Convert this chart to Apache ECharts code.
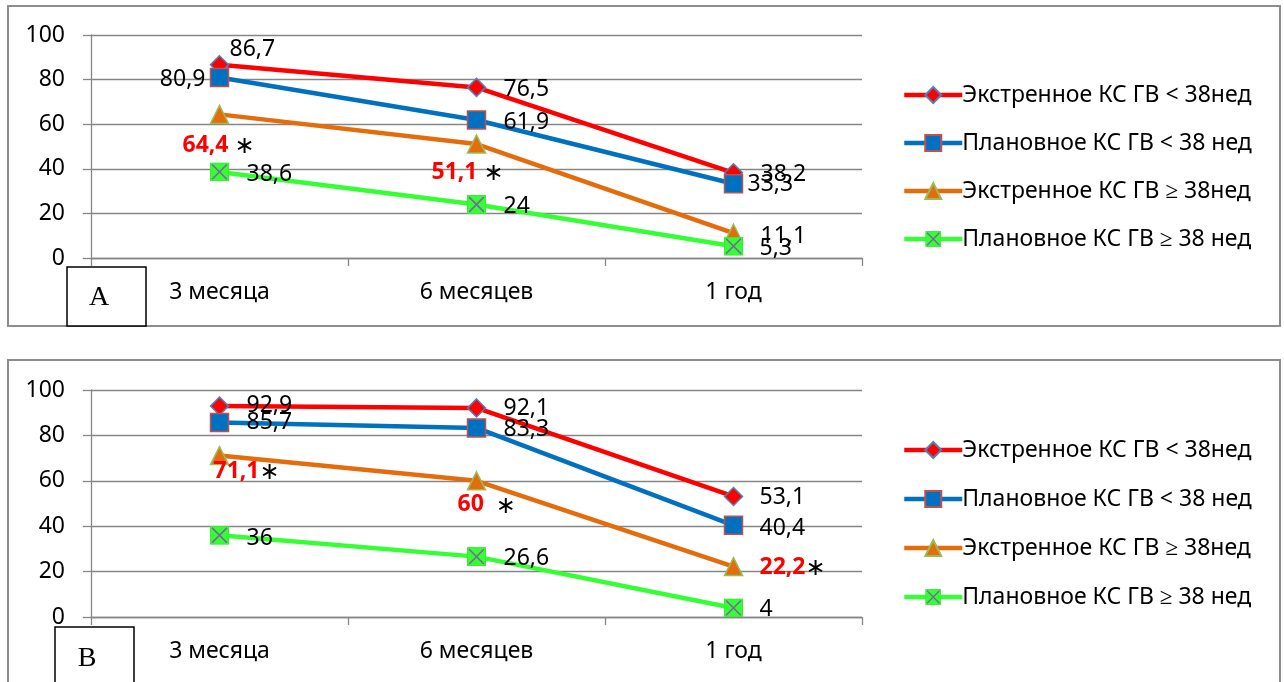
<!DOCTYPE html>
<html>
<head>
<meta charset="utf-8">
<script src="https://cdn.jsdelivr.net/npm/echarts@6/dist/echarts.min.js"></script>
<style>
  html, body { margin: 0; padding: 0; background: #ffffff; }
  #chart { width: 1284px; height: 682px; }
</style>
</head>
<body>
<div id="chart"></div>
<script>
// ---- data ----
const categories = ['3 месяца', '6 месяцев', '1 год'];
const seriesNames = [
  'Экстренное КС ГВ < 38нед',
  'Плановное КС ГВ < 38 нед',
  'Экстренное КС ГВ ≥ 38нед',
  'Плановное КС ГВ ≥ 38 нед'
];
const yTicks = [0, 20, 40, 60, 80, 100];

// Panel A
const aEmergLt38 = [86.7, 76.5, 38.2];
const aPlanLt38  = [80.9, 61.9, 33.3];
const aEmergGe38 = [64.4, 51.1, 11.1];
const aPlanGe38  = [38.6, 24, 5.3];
const aSignificant = [true, true, false];   // marked with * for emergency ≥ 38

// Panel B
const bEmergLt38 = [92.9, 92.1, 53.1];
const bPlanLt38  = [85.7, 83.3, 40.4];
const bEmergGe38 = [71.1, 60, 22.2];
const bPlanGe38  = [36, 26.6, 4];
const bSignificant = [true, true, true];

const panelLetters = ['А', 'В'];

// ---- styling ----
const FONT = 'Noto Sans';
const FS = 23;
const xSquare = 'image://data:image/svg+xml,' + encodeURIComponent(
  "<svg xmlns='http://www.w3.org/2000/svg' width='36' height='36' viewBox='0 0 36 36'>" +
  "<rect x='1' y='1' width='34' height='34' fill='#33FF33' stroke='#3BE83B' stroke-width='2'/>" +
  "<path d='M4 4L32 32M32 4L4 32' stroke='#8064A2' stroke-width='3'/></svg>");

const seriesStyles = [
  { color: '#FF0000', symbol: 'diamond',  size: 18, border: '#4F81BD' },
  { color: '#0070C0', symbol: 'rect',     size: 18, border: '#C0504D' },
  { color: '#E46C0A', symbol: 'triangle', size: 18, border: '#9BBB59' },
  { color: '#33FF33', symbol: xSquare,    size: 19, border: null }
];

// label placement per panel / series / point: [dx, dy, align]
const labelLayout = [
  [
    [[10, -15, 'left'], [27, 2, 'left'], [27, 2, 'left']],
    [[-14, 2, 'right'], [27, 2, 'left'], [14, 1, 'left']],
    [[-37, 31, 'left'], [-45, 28, 'left'], [27, 3, 'left']],
    [[27, 3, 'left'], [27, 2, 'left'], [26, 2, 'left']]
  ],
  [
    [[27, -1, 'left'], [27, 1, 'left'], [26, 1, 'left']],
    [[27, 0, 'left'], [27, 2, 'left'], [26, 3, 'left']],
    [[-6, 16, 'left'], [-19, 24, 'left'], [26, 1, 'left']],
    [[27, 3, 'left'], [27, 2, 'left'], [26, 2, 'left']]
  ]
];
const starGap = [[' ', ' ', ' '], ['', '  ', '']];

const fmt = v => String(v).replace('.', ',');

function buildSeries(panel, values, sIdx, significant) {
  const st = seriesStyles[sIdx];
  const data = values.map((v, i) => {
    const [dx, dy, align] = labelLayout[panel][sIdx][i];
    const sig = significant && significant[i];
    return {
      value: v,
      label: {
        show: true,
        position: 'inside',
        align: align,
        verticalAlign: 'middle',
        offset: [dx, dy],
        formatter: sig ? ('{sig|' + fmt(v) + '}' + starGap[panel][i] + '{ast|∗}') : fmt(v),
        fontFamily: FONT,
        fontSize: FS,
        color: '#000000',
        rich: {
          sig: { fontFamily: FONT, fontSize: FS, fontWeight: 'bold', color: '#FF0000' },
          ast: { fontFamily: 'DejaVu Sans', fontSize: 24, color: '#000000', padding: [3, 0, 0, 0] }
        }
      }
    };
  });
  return {
    type: 'line',
    name: seriesNames[sIdx],
    xAxisIndex: panel,
    yAxisIndex: panel,
    data: data,
    symbol: st.symbol,
    symbolSize: st.size,
    showAllSymbol: true,
    lineStyle: { color: st.color, width: 4.5 },
    itemStyle: st.border
      ? { color: st.color, borderColor: st.border, borderWidth: 1.5 }
      : { color: st.color },
    emphasis: { disabled: true },
    animation: false
  };
}

const gridCommon = { left: 91, width: 771 };
const grids = [
  Object.assign({ top: 35, height: 223 }, gridCommon),
  Object.assign({ top: 390, height: 227 }, gridCommon)
];

function xAxisFor(i) {
  return {
    type: 'category', gridIndex: i, data: categories, boundaryGap: true,
    axisLine: { lineStyle: { color: '#868686', width: 1.3 } },
    axisTick: { show: true, length: 8, lineStyle: { color: '#868686', width: 1.3 } },
    axisLabel: { margin: 23, fontFamily: FONT, fontSize: FS, color: '#000000' }
  };
}
function yAxisFor(i) {
  return {
    type: 'value', gridIndex: i, min: yTicks[0], max: yTicks[yTicks.length - 1], interval: 20,
    axisLine: { show: true, lineStyle: { color: '#868686', width: 1.3 } },
    axisTick: { show: true, length: 8, lineStyle: { color: '#868686', width: 1.3 } },
    splitLine: { lineStyle: { color: '#868686', width: 1.3 } },
    axisLabel: { margin: 26, fontFamily: FONT, fontSize: FS, color: '#000000' }
  };
}

function legendFor(top, gap) {
  return {
    orient: 'vertical', left: 897, top: top,
    itemWidth: 58, itemHeight: 20, itemGap: gap,
    selectedMode: false,
    data: seriesNames,
    lineStyle: { width: 4.5 },
    textStyle: { fontFamily: FONT, fontSize: FS, lineHeight: 24, color: '#000000', padding: [0, 0, 0, -5] }
  };
}

function panelFrame(y, h) {
  return { type: 'rect', shape: { x: 8, y: y, width: 1272, height: h },
           style: { fill: null, stroke: '#8C8C8C', lineWidth: 2 }, z: -10, silent: true };
}
function letterBox(x, y, w, h, letter, tx, ty) {
  return [
    { type: 'rect', shape: { x: x, y: y, width: w, height: h },
      style: { fill: '#ffffff', stroke: '#000000', lineWidth: 1.5 }, z: 100, silent: true },
    { type: 'text', x: tx, y: ty, z: 101, silent: true,
      style: { text: letter, fontFamily: 'Liberation Serif', fontSize: 28, fill: '#000000',
               align: 'center', verticalAlign: 'middle' } }
  ];
}

const series = [
  buildSeries(0, aEmergLt38, 0),
  buildSeries(0, aPlanLt38, 1),
  buildSeries(0, aEmergGe38, 2, aSignificant),
  buildSeries(0, aPlanGe38, 3),
  buildSeries(1, bEmergLt38, 0),
  buildSeries(1, bPlanLt38, 1),
  buildSeries(1, bEmergGe38, 2, bSignificant),
  buildSeries(1, bPlanGe38, 3)
];

const chart = echarts.init(document.getElementById('chart'), null, { renderer: 'canvas' });
chart.setOption({
  backgroundColor: '#ffffff',
  animation: false,
  grid: grids,
  xAxis: [xAxisFor(0), xAxisFor(1)],
  yAxis: [yAxisFor(0), yAxisFor(1)],
  legend: [legendFor(78, 24), legendFor(433, 25)],
  series: series,
  graphic: [
    panelFrame(6, 320),
    panelFrame(360, 340)
  ].concat(
    letterBox(67, 267, 79, 59, panelLetters[0], 99, 298),
    letterBox(55, 627, 79, 70, panelLetters[1], 87, 659)
  )
});
</script>
</body>
</html>
